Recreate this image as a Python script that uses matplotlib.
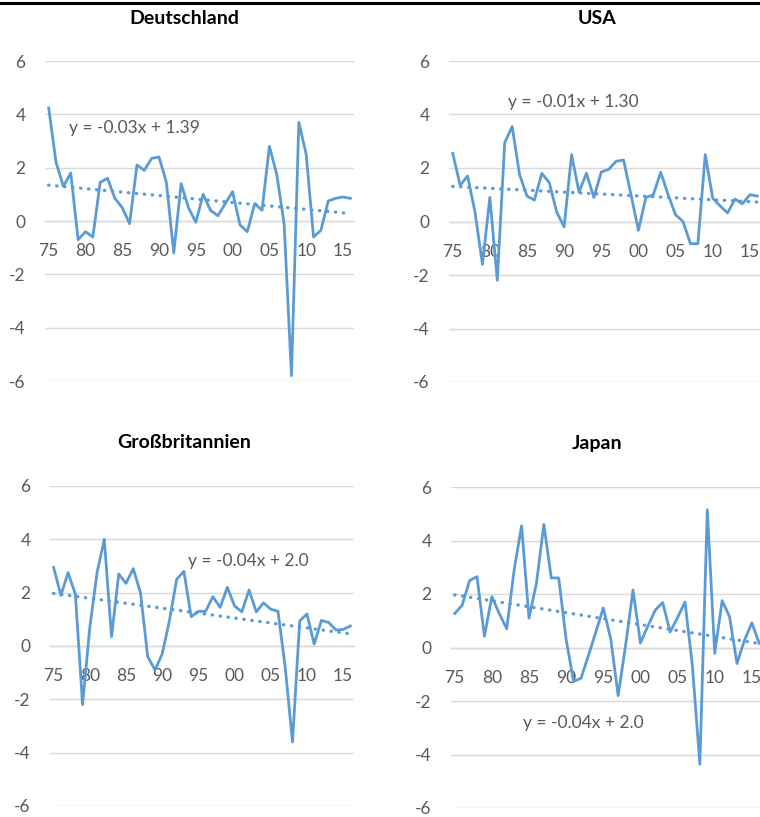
import numpy as np
import matplotlib.pyplot as plt
from matplotlib.lines import Line2D

plt.rcParams['font.family'] = ['Lato', 'DejaVu Sans']

# years on the category axis
years = list(range(1975, 2017))

# series (one value per year 1975..2016)
deutschland = [4.24, 2.2, 1.3, 1.8, -0.7, -0.4, -0.6, 1.45, 1.6, 0.85,
               0.5, -0.1, 2.1, 1.9, 2.35, 2.4, 1.45, -1.2, 1.4, 0.5,
               -0.05, 1.0, 0.4, 0.2, 0.65, 1.1, -0.15, -0.4, 0.65, 0.4,
               2.8, 1.75, -0.1, -5.8, 3.7, 2.5, -0.6, -0.35, 0.75, 0.85,
               0.9, 0.85]
usa = [2.55, 1.35, 1.7, 0.35, -1.6, 0.9, -2.2, 2.95, 3.55, 1.75,
       0.95, 0.8, 1.8, 1.45, 0.35, -0.2, 2.5, 1.1, 1.8, 0.9,
       1.85, 1.95, 2.25, 2.3, 1.0, -0.33, 0.9, 1.0, 1.84, 1.0,
       0.25, 0.0, -0.83, -0.83, 2.5, 0.87, 0.58, 0.32, 0.84, 0.66,
       1.0, 0.95]
grossbritannien = [2.95, 1.9, 2.75, 1.95, -2.2, 0.7, 2.75, 4.0, 0.35, 2.7,
                   2.35, 2.9, 2.0, -0.4, -0.9, -0.3, 0.95, 2.5, 2.8, 1.1,
                   1.3, 1.3, 1.85, 1.45, 2.2, 1.5, 1.28, 2.1, 1.28, 1.62,
                   1.38, 1.3, -0.8, -3.6, 0.94, 1.2, 0.07, 0.96, 0.88, 0.6,
                   0.62, 0.75]
japan = [1.27, 1.58, 2.5, 2.65, 0.42, 1.9, 1.27, 0.7, 2.9, 4.55,
         1.1, 2.4, 4.6, 2.6, 2.6, 0.3, -1.27, -1.15, -0.3, 0.58,
         1.48, 0.33, -1.8, 0.08, 2.15, 0.17, 0.8, 1.4, 1.68, 0.58,
         1.12, 1.7, -0.7, -4.36, 5.15, -0.22, 1.75, 1.15, -0.6, 0.27,
         0.92, 0.15]

titles = ['Deutschland', 'USA', 'Großbritannien', 'Japan']
equations = ['y = -0.03x + 1.39', 'y = -0.01x + 1.30',
             'y = -0.04x + 2.0', 'y = -0.04x + 2.0']

x_ticks = [1975, 1980, 1985, 1990, 1995, 2000, 2005, 2010, 2015]
x_labels = ['75', '80', '85', '90', '95', '00', '05', '10', '15']
y_ticks = [-6, -4, -2, 0, 2, 4, 6]
y_labels = ['-6', '-4', '-2', '0', '2', '4', '6']

W, H = 760, 817
BLUE = '#5b9bd5'
GREY = '#595959'


def px_rect(left, top, right, bottom):
    return [left / W, 1 - bottom / H, (right - left) / W, (bottom - top) / H]


# panel layout in pixels: axes box, title centre, equation anchor (data coords)
panels = [
    (deutschland, px_rect(45, 61, 354, 381), (184, 18), (1977.7, 3.5)),
    (usa, px_rect(449, 61, 761, 382), (597, 18), (1982.4, 4.45)),
    (grossbritannien, px_rect(50, 486, 354, 806), (184, 443), (1993.6, 3.17)),
    (japan, px_rect(451, 487, 763, 808), (597, 443), (1984.2, -2.84)),
]

fig = plt.figure(figsize=(W / 100, H / 100), dpi=100)

# black rule along the top
fig.add_artist(Line2D([0, 1], [1 - 2.5 / H, 1 - 2.5 / H], transform=fig.transFigure,
                      color='black', lw=2.2))

idx = np.arange(1, len(years) + 1)

for i, (values, rect, tpos, epos) in enumerate(panels):
    ax = fig.add_axes(rect)
    ax.plot(years, values, color=BLUE, lw=2.0, zorder=3)

    # linear trend of the series
    fit = np.polyfit(idx, values, 1)
    ax.plot(years, np.polyval(fit, idx), color=BLUE, lw=2.4,
            linestyle=(0, (0.1, 2.3)), dash_capstyle='round', zorder=2)

    ax.set_xlim(1974.5, 2016.5)
    ax.set_ylim(-6, 6)
    ax.set_xticks(x_ticks)
    ax.set_xticklabels(x_labels)
    ax.set_yticks(y_ticks)
    ax.set_yticklabels(y_labels)
    ax.tick_params(axis='x', length=0, pad=16, labelsize=12.5, labelcolor=GREY)
    ax.tick_params(axis='y', length=0, pad=14, labelsize=12.5, labelcolor=GREY)

    for side in ['top', 'right', 'left']:
        ax.spines[side].set_visible(False)
    ax.spines['bottom'].set_position(('data', 0))
    ax.spines['bottom'].set_color('#d9d9d9')
    ax.spines['bottom'].set_linewidth(1)

    ax.grid(axis='y', color='#d9d9d9', lw=1)
    ax.set_axisbelow(True)
    ax.patch.set_visible(False)

    ax.text(epos[0], epos[1], equations[i], fontsize=12.5, color=GREY,
            ha='left', va='center')

    fig.text(tpos[0] / W, 1 - tpos[1] / H, titles[i], fontsize=14,
             fontweight='bold', ha='center', va='center')

fig.savefig('out.png', dpi=100)
